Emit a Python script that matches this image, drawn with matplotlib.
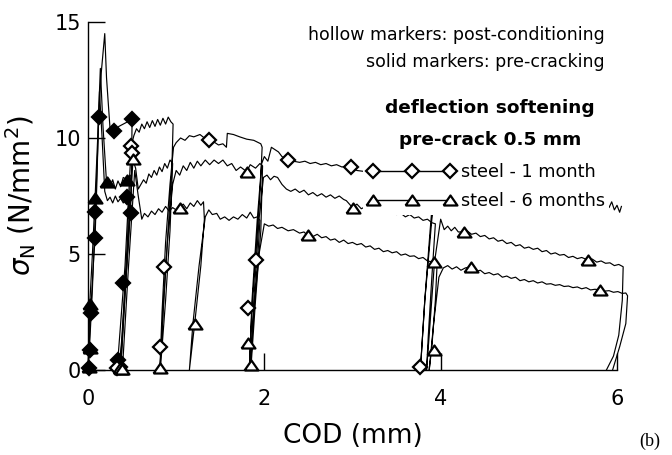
import matplotlib
matplotlib.use("Agg")
import matplotlib.pyplot as plt
from matplotlib.lines import Line2D

# ---------------- data ----------------
# pre-cracking curves (solid markers)
pd_x = [0.00, 0.01, 0.03, 0.06, 0.08, 0.10, 0.12, 0.15, 0.19, 0.21, 0.25, 0.30, 0.35, 0.40, 0.45, 0.50,
        0.49, 0.46, 0.42, 0.38, 0.35]
pd_y = [0.0, 0.85, 2.45, 4.5, 5.7, 8.0, 10.9, 12.8, 14.5, 12.6, 10.4, 10.3, 10.5, 10.6, 10.7, 10.8,
        7.5, 5.5, 3.5, 1.2, 0.0]

pt1_x = [0.00, 0.01, 0.02, 0.05, 0.08, 0.11, 0.14, 0.17, 0.21, 0.25, 0.28, 0.31, 0.34, 0.37, 0.40, 0.44,
         0.48, 0.47, 0.44, 0.40, 0.37]
pt1_y = [0.0, 0.95, 2.85, 5.0, 7.4, 10.0, 13.0, 10.5, 8.1, 7.9, 8.2, 7.8, 8.15, 7.9, 8.3, 8.2,
         8.4, 6.8, 4.5, 2.0, 0.0]

pt2_x = [0.00, 0.02, 0.05, 0.08, 0.11, 0.13, 0.16, 0.19, 0.22, 0.25, 0.28, 0.31, 0.34, 0.37, 0.40, 0.43,
         0.46, 0.45, 0.42, 0.39, 0.36]
pt2_y = [0.0, 1.2, 3.5, 6.5, 9.5, 12.0, 10.0, 7.7, 7.3, 7.45, 7.2, 7.5, 7.25, 7.4, 7.2, 7.35,
         7.3, 5.8, 3.8, 1.5, 0.0]

# post-conditioning curves (hollow markers)
d_x = [0.33, 0.42, 0.49, 0.52, 0.55, 0.58, 0.61, 0.64, 0.67, 0.70, 0.73, 0.76, 0.79, 0.82, 0.85, 0.88,
       0.91, 0.94, 0.965,
       0.95, 0.90, 0.86, 0.82, 0.815,
       0.84, 0.88, 0.93, 0.97, 1.00, 1.05, 1.10, 1.15, 1.20, 1.27, 1.32, 1.37, 1.42, 1.48, 1.53, 1.57,
       1.58, 1.65, 1.72, 1.80, 1.88, 1.96, 1.975,
       1.95, 1.90, 1.86, 1.83,
       1.86, 1.92, 1.97, 2.00, 2.04, 2.08, 2.12, 2.16, 2.20, 2.27, 2.33, 2.40, 2.46, 2.52, 2.58, 2.64,
       2.70, 2.76, 2.82, 2.88, 2.94, 2.98, 3.05, 3.15, 3.30, 3.50, 3.70, 3.90, 3.93,
       3.88, 3.82, 3.77,
       3.82, 3.90, 3.96, 4.20, 4.60, 5.00, 5.40, 5.80, 5.85, 5.88, 5.91, 5.94, 5.97, 6.00, 6.03, 6.05]
d_y = [0.0, 4.5, 9.65, 10.1, 10.4, 10.25, 10.6, 10.4, 10.7, 10.45, 10.75, 10.5, 10.8, 10.55, 10.85, 10.6,
       10.9, 10.7, 10.6,
       8.5, 5.5, 3.0, 0.3, 0.0,
       2.5, 5.5, 8.0, 9.6, 9.8, 10.0, 9.9, 10.1, 10.05, 10.15, 10.0, 9.9, 9.85, 9.7, 9.75, 9.6,
       10.2, 10.15, 10.05, 9.95, 9.9, 9.75, 9.6,
       7.5, 4.74, 2.67, 0.0,
       3.0, 6.5, 8.9, 9.2, 9.0, 9.6, 9.5, 9.4, 9.2, 9.05, 9.0, 8.95, 9.0, 8.9, 8.95, 8.85,
       8.9, 8.8, 8.85, 8.75, 8.8, 8.75, 8.6, 8.55, 8.5, 8.45, 8.4, 8.35, 8.3,
       6.0, 3.0, 0.0,
       3.0, 6.5, 8.2, 8.15, 7.9, 7.7, 7.5, 7.3, 7.15, 7.35, 7.0, 7.25, 6.9, 7.1, 6.8, 7.05]

t1_x = [0.37, 0.44, 0.51, 0.54, 0.57, 0.60, 0.63, 0.66, 0.69, 0.72, 0.75, 0.78, 0.81, 0.84, 0.87, 0.90,
        0.93, 0.96,
        0.93, 0.88, 0.83, 0.82,
        0.85, 0.90, 0.96, 1.00, 1.04, 1.08, 1.12, 1.16, 1.20, 1.24, 1.28, 1.33, 1.38, 1.43, 1.48, 1.53,
        1.58, 1.63, 1.68, 1.73, 1.80, 1.84, 1.90, 1.95, 1.98,
        1.96, 1.90, 1.85, 1.845,
        1.88, 1.94, 1.99, 2.03, 2.07, 2.11, 2.15, 2.20, 2.25, 2.30, 2.35, 2.40, 2.45, 2.50, 2.55, 2.60,
        2.65, 2.70, 2.75, 2.80, 2.85, 2.90, 2.93, 3.00, 3.05, 3.10, 3.15, 3.20, 3.25, 3.30, 3.35, 3.40,
        3.45, 3.50, 3.55, 3.60, 3.65, 3.70, 3.75, 3.80, 3.85, 3.90, 3.94,
        3.90, 3.86, 3.84,
        3.87, 3.93, 4.00, 4.04, 4.08, 4.12, 4.16, 4.20, 4.26, 4.30, 4.35, 4.40, 4.45, 4.50, 4.55, 4.60,
        4.65, 4.70, 4.75, 4.80, 4.85, 4.90, 4.95, 5.00, 5.05, 5.10, 5.15, 5.20, 5.25, 5.30, 5.35, 5.40,
        5.45, 5.50, 5.55, 5.60, 5.67, 5.72, 5.77, 5.82, 5.87, 5.92, 5.97, 6.02, 6.07,
        6.06, 6.02, 5.96, 5.88]
t1_y = [0.0, 4.5, 9.05, 8.7, 7.8, 8.0, 8.2, 8.05, 8.45, 8.3, 8.6, 8.4, 8.75, 8.55, 8.9, 8.7,
        9.05, 8.9,
        6.0, 3.0, 0.5, 0.0,
        2.5, 5.5, 8.0, 8.6, 8.4, 8.8, 8.6, 8.95, 8.7, 9.0, 8.8, 9.05, 8.85, 9.05, 8.9, 9.05,
        8.8, 8.9, 8.6, 8.75, 8.55, 8.85, 8.7, 8.9, 8.8,
        6.0, 3.0, 0.2, 0.0,
        3.0, 6.5, 8.3, 8.4, 8.2, 8.35, 8.3, 8.0, 7.8, 7.7, 7.8, 7.65, 7.75, 7.55, 7.65, 7.5,
        7.6, 7.45, 7.55, 7.4, 7.5, 7.35, 7.3, 7.0, 7.15, 6.95, 7.05, 6.9, 7.0, 6.8, 6.9, 6.75,
        6.85, 6.7, 6.75, 6.6, 6.7, 6.55, 6.6, 6.45, 6.5, 6.35, 6.3,
        4.0, 1.5, 0.0,
        1.5, 4.65, 6.5, 6.05, 6.2, 6.0, 6.15, 5.95, 5.95, 6.0, 5.85, 5.9, 5.75, 5.8, 5.65, 5.7,
        5.55, 5.6, 5.45, 5.5, 5.35, 5.4, 5.25, 5.3, 5.2, 5.25, 5.1, 5.15, 5.0, 5.05, 4.95, 4.98,
        4.85, 4.9, 4.8, 4.85, 4.74, 4.78, 4.65, 4.7, 4.6, 4.62, 4.5, 4.55, 4.45,
        3.0, 1.5, 0.6, 0.0]

t2_x = [0.39, 0.46, 0.53, 0.57, 0.61, 0.64, 0.68, 0.72, 0.76, 0.80, 0.84, 0.88, 0.92, 0.96, 1.00, 1.04,
        1.08, 1.12, 1.16, 1.20, 1.24, 1.28, 1.31, 1.32,
        1.28, 1.21, 1.15,
        1.19, 1.26, 1.33, 1.37, 1.41, 1.46, 1.50, 1.55, 1.60, 1.65, 1.70, 1.75, 1.80, 1.84, 1.88, 1.92,
        1.95,
        1.92, 1.87, 1.84,
        1.88, 1.94, 2.00, 2.05, 2.10, 2.15, 2.20, 2.27, 2.33, 2.40, 2.45, 2.49, 2.55, 2.60, 2.65, 2.70,
        2.75, 2.80, 2.85, 2.90, 2.95, 3.00, 3.05, 3.10, 3.15, 3.20, 3.25, 3.30, 3.35, 3.40, 3.45, 3.50,
        3.55, 3.60, 3.65, 3.70, 3.75, 3.80, 3.85, 3.92, 3.96,
        3.94, 3.90, 3.87,
        3.92, 3.98, 4.03, 4.08, 4.13, 4.18, 4.23, 4.28, 4.34, 4.40, 4.45, 4.50, 4.55, 4.60, 4.65, 4.70,
        4.75, 4.80, 4.85, 4.90, 4.95, 5.00, 5.05, 5.10, 5.15, 5.20, 5.25, 5.30, 5.35, 5.40, 5.45, 5.50,
        5.55, 5.60, 5.65, 5.70, 5.75, 5.81, 5.86, 5.91, 5.96, 6.01, 6.06, 6.10, 6.12,
        6.10, 6.03, 5.95]
t2_y = [0.0, 4.5, 8.6, 7.5, 6.5, 6.75, 6.6, 6.85, 6.7, 6.95, 6.8, 7.05, 6.85, 7.0, 6.9, 7.0,
        7.15, 6.95, 7.2, 7.05, 7.3, 7.1, 7.25, 6.5,
        4.5, 2.0, 0.0,
        2.0, 4.5, 6.6, 6.9, 6.7, 6.75, 6.5, 6.6, 6.45, 6.6, 6.5, 6.7, 6.55, 6.8, 6.55, 6.6,
        6.45,
        4.5, 2.0, 0.0,
        2.5, 5.0, 6.3, 6.2, 6.25, 6.1, 6.15, 6.0, 6.05, 5.9, 5.95, 5.8, 5.75, 5.85, 5.7, 5.75,
        5.6, 5.65, 5.5, 5.6, 5.45, 5.5, 5.4, 5.45, 5.3, 5.35, 5.2, 5.25, 5.1, 5.15, 5.05, 5.1,
        4.95, 5.0, 4.9, 4.92, 4.8, 4.85, 4.7, 4.65, 4.6,
        3.0, 1.0, 0.0,
        2.0, 4.0, 4.4, 4.5, 4.35, 4.45, 4.3, 4.4, 4.45, 4.25, 4.3, 4.15, 4.2, 4.1, 4.15, 4.0,
        4.05, 3.95, 4.0, 3.85, 3.9, 3.8, 3.85, 3.75, 3.8, 3.7, 3.72, 3.65, 3.68, 3.6, 3.62, 3.55,
        3.58, 3.5, 3.55, 3.45, 3.48, 3.45, 3.4, 3.42, 3.35, 3.38, 3.3, 3.32, 3.2,
        2.0, 1.0, 0.0]

# marker positions
sd_x = [0.01, 0.02, 0.03, 0.08, 0.08, 0.12, 0.30, 0.50, 0.44, 0.49, 0.40, 0.34, 0.36]
sd_y = [0.1, 0.85, 2.45, 5.7, 6.8, 10.9, 10.3, 10.8, 7.45, 6.75, 3.75, 0.45, 0.15]
st_x = [0.01, 0.02, 0.02, 0.08, 0.21, 0.44, 0.35, 0.37]
st_y = [0.15, 0.95, 2.85, 7.4, 8.1, 8.2, 0.25, 0.05]
hd_x = [0.49, 0.50, 0.865, 0.815, 0.33, 1.37, 1.90, 1.81, 2.27, 2.98, 3.77]
hd_y = [9.65, 9.35, 4.45, 1.0, 0.1, 9.9, 4.74, 2.67, 9.05, 8.75, 0.13]
ht_x = [0.51, 0.36, 0.38, 0.82, 1.04, 1.21, 1.80, 1.82, 1.85, 2.49, 3.00, 3.93, 3.92, 4.26, 4.34,
        5.67, 5.81]
ht_y = [9.1, 0.1, 0.05, 0.1, 7.0, 2.0, 8.55, 1.15, 0.2, 5.8, 7.0, 4.65, 0.86, 5.95, 4.45,
        4.74, 3.45]

legend_labels = ["steel - 1 month", "steel - 6 months"]
x_ticks = [0, 2, 4, 6]
y_ticks = [0, 5, 10, 15]

# ---------------- figure ----------------
FONT = "DejaVu Sans"
plt.rcParams["font.family"] = [FONT]
plt.rcParams["mathtext.fontset"] = "dejavusans"

fig = plt.figure(figsize=(6.72, 4.55), dpi=100)
ax = fig.add_axes([88 / 672, 85 / 455, (617 - 88) / 672, (370 - 22) / 455])

tri = [(-1, -0.72), (1, -0.72), (0, 0.72), (-1, -0.72)]
lw = 0.85
for xs, ys in [(pd_x, pd_y), (pt1_x, pt1_y), (pt2_x, pt2_y),
               (d_x, d_y), (t1_x, t1_y), (t2_x, t2_y)]:
    ax.plot(xs, ys, color="black", lw=lw, clip_on=False, zorder=2)

mk = dict(linestyle="none", clip_on=False, zorder=3, markeredgewidth=1.6)
ax.plot(sd_x, sd_y, marker="D", ms=7.5, mfc="black", mec="black", **mk)
ax.plot(st_x, st_y, marker=tri, ms=10, mfc="black", mec="black", **mk)
ax.plot(hd_x, hd_y, marker="D", ms=7, mfc="white", mec="black", **mk)
ax.plot(ht_x, ht_y, marker=tri, ms=10, mfc="white", mec="black", **mk)

ax.set_xlim(0, 6)
ax.set_ylim(0, 15)
ax.set_xticks(x_ticks)
ax.set_yticks(y_ticks)
for s in ["top", "right"]:
    ax.spines[s].set_visible(False)
for s in ["left", "bottom"]:
    ax.spines[s].set_linewidth(1.0)
ax.tick_params(direction="in", length=12, width=1.0, labelsize=15)
ax.tick_params(axis="x", pad=14)
ax.tick_params(axis="y", pad=5)

ax.set_xlabel("COD (mm)", fontsize=19, labelpad=10)
ax.set_ylabel(r"$\sigma_\mathrm{N}$ (N/mm$^2$)", fontsize=20, labelpad=12)

# annotations
ax.text(605 / 672, 1 - 35 / 455, "hollow markers: post-conditioning", transform=fig.transFigure,
        ha="right", va="center", fontsize=12.5)
ax.text(605 / 672, 1 - 62 / 455, "solid markers: pre-cracking", transform=fig.transFigure,
        ha="right", va="center", fontsize=12.5)
ax.text(490 / 672, 1 - 108 / 455, "deflection softening", transform=fig.transFigure,
        ha="center", va="center", fontsize=13.3, fontweight="bold")
ax.text(490 / 672, 1 - 140 / 455, "pre-crack 0.5 mm", transform=fig.transFigure,
        ha="center", va="center", fontsize=13.3, fontweight="bold")

handles = [Line2D([], [], color="black", lw=1.0, marker="D", ms=7, mfc="white", mec="black", mew=1.6),
           Line2D([], [], color="black", lw=1.0, marker=tri, ms=10, mfc="white", mec="black", mew=1.6)]
leg = ax.legend(handles, legend_labels, numpoints=3, loc="upper left",
                bbox_to_anchor=(363 / 672, 1 - 159 / 455), bbox_transform=fig.transFigure,
                fontsize=12.7, handlelength=5.0, handletextpad=0.3, labelspacing=0.62,
                borderpad=0.25, borderaxespad=0, frameon=True, fancybox=False,
                facecolor="white", edgecolor="white", framealpha=1)
leg.get_frame().set_linewidth(0)
leg.set_zorder(5)

fig.text(650 / 672, 1 - 441 / 455, "(b)", ha="center", va="center", fontsize=13,
         family="Liberation Serif")

fig.savefig("out.png", dpi=100)
